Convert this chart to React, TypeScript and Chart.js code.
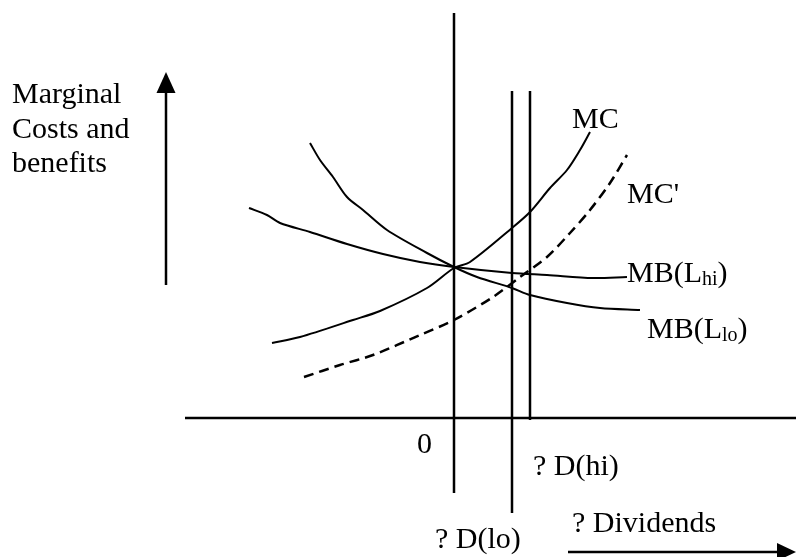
import React, { useEffect, useRef } from "react";
import { Chart, registerables } from "chart.js";

Chart.register(...registerables);

// Data coordinates: x = dividend change (0 at the vertical axis), y = marginal costs/benefits (0 at the horizontal axis)
const mcX = [-18.2, -15.4, -10.1, -7.4, -2.7, 0, 1.6, 5.8, 7.6, 9.6, 11.3, 12.6, 13.6];
const mcY = [7.5, 8.1, 9.8, 10.7, 13.0, 15.0, 15.6, 19.0, 20.6, 23.0, 24.8, 26.8, 28.6];

const mcPrimeX = [-15.0, -11.4, -8.1, -3.4, 0, 3.9, 6.6, 9.3, 11.6, 13.6, 15.6, 17.3];
const mcPrimeY = [4.1, 5.3, 6.3, 8.3, 9.8, 12.1, 14.1, 16.1, 18.5, 20.8, 23.5, 26.3];

const mbLoX = [-14.4, -13.4, -12.1, -10.7, -9.1, -6.7, -2.7, 0, 2.3, 5.8, 7.6, 11.3, 14.6, 18.6];
const mbLoY = [27.5, 25.8, 24.1, 22.1, 20.8, 18.8, 16.5, 15.1, 14.1, 13.0, 12.3, 11.5, 11.0, 10.8];

const mbHiX = [-20.5, -18.7, -17.4, -14.4, -10.7, -7.1, -3.4, 0, 5.8, 9.3, 13.9, 17.3];
const mbHiY = [21.0, 20.3, 19.5, 18.6, 17.4, 16.4, 15.6, 15.1, 14.5, 14.3, 14.0, 14.1];

// vertical reference lines: [x, yTop, yBottom]
const zeroLine = [0, 40.5, -7.5];
const dLoLine = [5.8, 32.7, -9.5];
const dHiLine = [7.6, 32.7, -0.2];

// horizontal axis: [y, xStart, xEnd]
const horizAxis = [0, -26.9, 34.2];

// arrows: [x0, y0, x1(tip), y1(tip)]
const yArrow = [-28.8, 13.3, -28.8, 34.6];
const xArrow = [11.4, -13.4, 34.2, -13.4];

// scale extents
const xRange = [-45.4, 34.2];
const yRange = [-13.9, 41.8];

// labels: text, x (left), y (baseline), optional subscript + tail
const labelTexts = ["MC", "MC'", "0", "? D(hi)", "? D(lo)", "? Dividends", "Marginal", "Costs and", "benefits"];
const labelX = [11.8, 17.3, -3.7, 7.9, -1.9, 11.8, -44.2, -44.2, -44.2];
const labelY = [29.0, 21.5, -3.5, -5.7, -13.0, -11.4, 31.5, 28.0, 24.6];

const subLabelMain = ["MB(L", "MB(L"];
const subLabelSub = ["hi", "lo"];
const subLabelTail = [")", ")"];
const subLabelX = [17.3, 19.3];
const subLabelY = [13.6, 8.0];

const pts = (xs: number[], ys: number[]) => xs.map((x, i) => ({ x, y: ys[i] }));

const FONT = '"Liberation Serif", "Times New Roman", serif';

const overlayPlugin = {
  id: "overlay",
  afterDatasetsDraw(chart: any) {
    const { ctx, scales } = chart;
    const sx = (v: number) => scales.x.getPixelForValue(v);
    const sy = (v: number) => scales.y.getPixelForValue(v);
    ctx.save();
    ctx.fillStyle = "#000";
    // arrowheads
    const head = (a: number[], len: number, half: number) => {
      const x0 = sx(a[0]), y0 = sy(a[1]), x1 = sx(a[2]), y1 = sy(a[3]);
      const ang = Math.atan2(y1 - y0, x1 - x0);
      const bx = x1 - Math.cos(ang) * len, by = y1 - Math.sin(ang) * len;
      ctx.beginPath();
      ctx.moveTo(x1, y1);
      ctx.lineTo(bx + Math.sin(ang) * half, by - Math.cos(ang) * half);
      ctx.lineTo(bx - Math.sin(ang) * half, by + Math.cos(ang) * half);
      ctx.closePath();
      ctx.fill();
    };
    head(yArrow, 21, 9.5);
    head(xArrow, 19, 9);

    ctx.textBaseline = "alphabetic";
    ctx.textAlign = "left";
    ctx.font = `30px ${FONT}`;
    labelTexts.forEach((t, i) => {
      ctx.fillText(t, sx(labelX[i]), sy(labelY[i]));
    });
    subLabelMain.forEach((t, i) => {
      let x = sx(subLabelX[i]);
      const y = sy(subLabelY[i]);
      ctx.font = `30px ${FONT}`;
      ctx.fillText(t, x, y);
      x += ctx.measureText(t).width;
      ctx.font = `20px ${FONT}`;
      ctx.fillText(subLabelSub[i], x, y + 3);
      x += ctx.measureText(subLabelSub[i]).width;
      ctx.font = `30px ${FONT}`;
      ctx.fillText(subLabelTail[i], x, y);
    });
    ctx.restore();
  },
};

export default function App() {
  const ref = useRef<HTMLCanvasElement | null>(null);
  useEffect(() => {
    const canvas = ref.current;
    if (!canvas) return;
    const line = (data: { x: number; y: number }[], extra: any = {}) => ({
      data,
      showLine: true,
      borderColor: "#000",
      backgroundColor: "#000",
      borderWidth: 2,
      pointRadius: 0,
      pointHoverRadius: 0,
      tension: 0,
      clip: false,
      ...extra,
    });
    const vLine = (v: number[]) => line([{ x: v[0], y: v[1] }, { x: v[0], y: v[2] }], { borderWidth: 2.5 });
    const chart = new Chart(canvas, {
      type: "scatter",
      data: {
        datasets: [
          line(pts(mcX, mcY), { tension: 0.3 }),
          line(pts(mcPrimeX, mcPrimeY), { tension: 0.3, borderDash: [10, 6], borderWidth: 2.5 }),
          line(pts(mbLoX, mbLoY), { tension: 0.3 }),
          line(pts(mbHiX, mbHiY), { tension: 0.3 }),
          vLine(zeroLine),
          vLine(dLoLine),
          vLine(dHiLine),
          line([{ x: horizAxis[1], y: horizAxis[0] }, { x: horizAxis[2], y: horizAxis[0] }], { borderWidth: 2.5 }),
          line([{ x: yArrow[0], y: yArrow[1] }, { x: yArrow[2], y: yArrow[3] - 2 }], { borderWidth: 2.5 }),
          line([{ x: xArrow[0], y: xArrow[1] }, { x: xArrow[2] - 1.8, y: xArrow[3] }], { borderWidth: 2.5 }),
        ],
      },
      options: {
        animation: false,
        responsive: false,
        devicePixelRatio: 1,
        layout: { padding: 0 },
        events: [],
        plugins: { legend: { display: false }, tooltip: { enabled: false }, title: { display: false } },
        scales: {
          x: { type: "linear", display: false, min: xRange[0], max: xRange[1] },
          y: { type: "linear", display: false, min: yRange[0], max: yRange[1] },
        },
      },
      plugins: [overlayPlugin],
    });
    return () => chart.destroy();
  }, []);
  return (
    <div style={{ position: "fixed", left: 0, top: 0, width: 796, height: 557, background: "#fff" }}>
      <canvas ref={ref} width={796} height={557} style={{ display: "block" }} />
    </div>
  );
}
